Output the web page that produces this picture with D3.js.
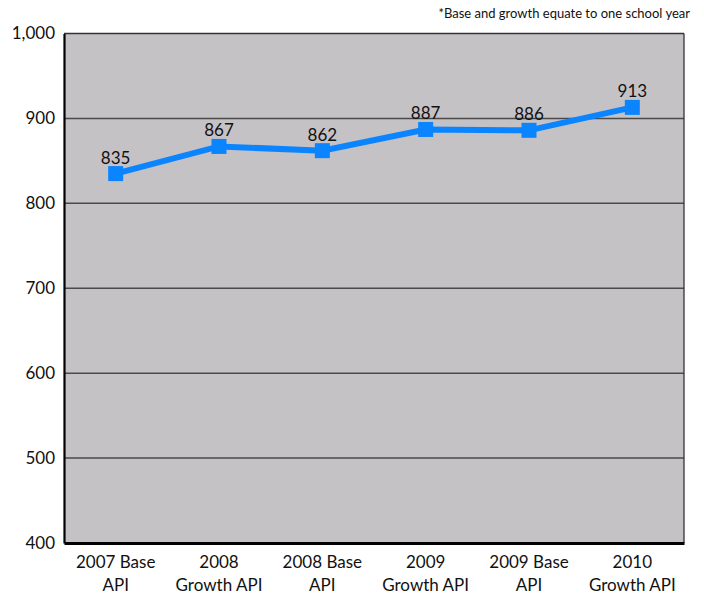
<!DOCTYPE html>
<html><head><meta charset="utf-8">
<script src="https://cdn.jsdelivr.net/npm/d3@7"></script>
<style>body{margin:0;background:#fff}svg{display:block}text{font-family:Lato,"Liberation Sans",sans-serif;fill:#111}</style>
</head><body><svg id="c" width="704" height="596"></svg>
<script>
const categories = [["2007 Base","API"],["2008","Growth API"],["2008 Base","API"],["2009","Growth API"],["2009 Base","API"],["2010","Growth API"]];
const values = [835, 867, 862, 887, 886, 913];
const yTicks = [400, 500, 600, 700, 800, 900, 1000];
const footnote = "*Base and growth equate to one school year";

const svg = d3.select("#c");
const m = {l:64, r:684, t:33.5, b:543};
const x = d3.scaleBand().domain(d3.range(categories.length)).range([m.l, m.r]);
const y = d3.scaleLinear().domain([400, 1000]).range([m.b, m.t]);

svg.append("rect").attr("x", m.l).attr("y", m.t).attr("width", m.r - m.l).attr("height", m.b - m.t).attr("fill", "#c5c2c6");

svg.append("g").selectAll("line").data(yTicks.filter(d => d > 400 && d < 1000)).join("line")
  .attr("x1", m.l).attr("x2", m.r).attr("y1", d => y(d)).attr("y2", d => y(d))
  .attr("stroke", "#4a4a4a").attr("stroke-width", 1.5);

// border
svg.append("line").attr("x1", m.l).attr("x2", m.r).attr("y1", m.t).attr("y2", m.t).attr("stroke", "#333").attr("stroke-width", 1.3);
svg.append("line").attr("x1", m.r).attr("x2", m.r).attr("y1", m.t).attr("y2", m.b).attr("stroke", "#333").attr("stroke-width", 1.3);

const yAxis = d3.axisLeft(y).tickValues(yTicks).tickSize(0).tickPadding(9).tickFormat(d3.format(","));
const ga = svg.append("g").attr("transform", `translate(${m.l},0)`).call(yAxis);
ga.select(".domain").attr("stroke", "#000").attr("stroke-width", 2.2);
ga.selectAll("text").style("font-size", "17px").style("font-family", "Lato, sans-serif").attr("fill", "#111");

const xAxis = d3.axisBottom(x).tickSize(0).tickFormat(() => "");
const gx = svg.append("g").attr("transform", `translate(0,${m.b})`).call(xAxis);
gx.select(".domain").attr("stroke", "#000").attr("stroke-width", 3);
gx.selectAll(".tick").each(function(d) {
  const t = d3.select(this).append("text").attr("text-anchor", "middle").style("font-size", "17px").attr("fill", "#111");
  categories[d].forEach((s, i) => t.append("tspan").attr("x", 0).attr("y", 25 + i * 23).text(s));
});

const cx = i => x(i) + x.bandwidth() / 2;
const line = d3.line().x((d, i) => cx(i)).y(d => y(d));
svg.append("path").datum(values).attr("d", line).attr("fill", "none").attr("stroke", "#0a84ff").attr("stroke-width", 6);
svg.append("g").selectAll("rect").data(values).join("rect")
  .attr("x", (d, i) => cx(i) - 7.5).attr("y", d => y(d) - 7.5).attr("width", 15).attr("height", 15).attr("fill", "#0a84ff");
svg.append("g").selectAll("text").data(values).join("text")
  .attr("x", (d, i) => cx(i)).attr("y", d => y(d) - 10).attr("text-anchor", "middle").style("font-size", "17px").text(d => d);

svg.append("text").attr("x", 690).attr("y", 18).attr("text-anchor", "end").style("font-size", "13px").text(footnote);
</script></body></html>
